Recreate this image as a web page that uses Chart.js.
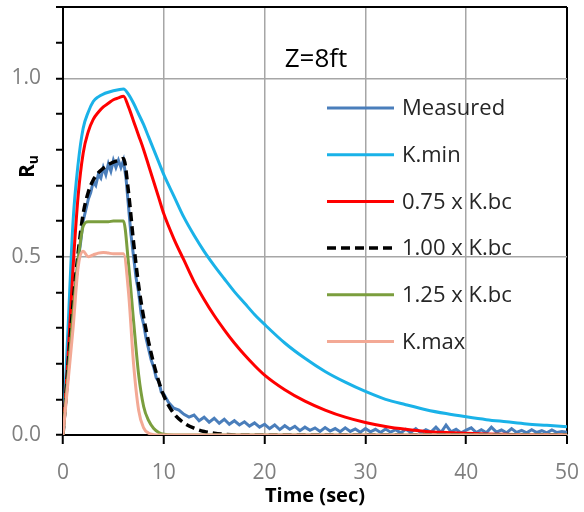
<!DOCTYPE html>
<html>
<head>
<meta charset="utf-8">
<script src="https://cdn.jsdelivr.net/npm/chart.js@4.4.1/dist/chart.umd.min.js"></script>
<style>
body { margin: 0; background: #fff; }
#wrap { width: 584px; height: 512px; }
</style>
</head>
<body>
<div id="wrap"><canvas id="myChart" width="584" height="512"></canvas></div>
<script>
// measured pore pressure ratio, Z = 8 ft
const measuredTime = [0,0.25,0.5,0.75,1,1.25,1.5,1.75,2,2.25,2.5,2.75,3,3.25,3.5,3.75,4,4.25,4.5,4.75,5,5.25,5.5,5.75,6,6.25,6.5,6.75,7,7.25,7.5,7.75,8,8.25,8.5,8.75,9,9.25,9.5,9.75,10,
  10.5,11,11.5,12,12.5,13,13.5,14,14.5,15,15.5,16,16.5,17,17.5,18,18.5,19,19.5,20,
  20.5,21,21.5,22,22.5,23,23.5,24,24.5,25,25.5,26,26.5,27,27.5,28,28.5,29,29.5,30,
  30.5,31,31.5,32,32.5,33,33.5,34,34.5,35,35.5,36,36.5,37,37.5,38,38.5,39,39.5,40,
  40.5,41,41.5,42,42.5,43,43.5,44,44.5,45,45.5,46,46.5,47,47.5,48,48.5,49,49.5,50]
const measuredRu = [0,0.08,0.17,0.26,0.35,0.42,0.49,0.54,0.6,0.63,0.66,0.68,0.71,0.70,0.73,0.72,0.75,0.73,0.76,0.74,0.77,0.75,0.77,0.75,0.77,
  0.72,0.64,0.56,0.5,0.44,0.4,0.34,0.31,0.27,0.24,0.21,0.19,0.16,0.15,0.12,0.115,
  0.09,0.075,0.07,0.058,0.05,0.056,0.04,0.05,0.036,0.047,0.033,0.044,0.03,0.04,0.028,0.037,0.025,0.034,0.022,0.03,
  0.018,0.028,0.015,0.026,0.016,0.024,0.012,0.022,0.013,0.02,0.01,0.021,0.011,0.018,0.009,0.02,0.01,0.017,0.008,0.018,
  0.009,0.016,0.007,0.017,0.008,0.015,0.006,0.016,0.007,0.018,0.006,0.015,0.008,0.022,0.007,0.028,0.009,0.016,0.006,0.014,
  0.02,0.007,0.015,0.006,0.022,0.008,0.014,0.006,0.018,0.007,0.013,0.006,0.015,0.007,0.012,0.006,0.014,0.007,0.01,0.008]

// model runs share one time axis
const modelTime = [0,0.5,1,1.5,2,2.5,3,3.5,4,4.5,5,5.5,6,6.5,7,7.5,8,8.5,9,9.5,10,11,12,13,14,15,16,17,18,19,20,22,24,26,28,30,32,34,36,38,40,42,44,46,48,50]
const kMin = [0,0.3,0.6,0.76,0.86,0.905,0.935,0.948,0.956,0.961,0.965,0.968,0.97,0.955,0.93,0.9,0.87,0.835,0.8,0.765,0.73,
  0.67,0.61,0.56,0.515,0.475,0.438,0.402,0.37,0.338,0.31,0.258,0.215,0.178,0.148,0.122,0.1,0.085,0.071,0.06,0.051,0.043,0.037,0.031,0.027,0.023]
const kbc075 = [0,0.22,0.47,0.67,0.79,0.85,0.885,0.905,0.92,0.93,0.94,0.945,0.95,0.92,0.88,0.84,0.8,0.755,0.71,0.665,0.62,
  0.55,0.49,0.43,0.38,0.335,0.295,0.258,0.225,0.195,0.168,0.127,0.095,0.07,0.05,0.035,0.024,0.016,0.01,0.007,0.005,0.003,0.002,0.001,0.001,0]
const kbc100 = [0,0.19,0.37,0.51,0.62,0.68,0.715,0.735,0.748,0.758,0.765,0.77,0.775,0.68,0.54,0.42,0.33,0.26,0.2,0.15,0.11,
  0.06,0.034,0.019,0.01,0.005,0.002,0,0,0,0,0,0,0,0,0,0,0,0,0,0,0,0,0,0,0]
const kbc125 = [0,0.17,0.34,0.49,0.585,0.598,0.598,0.598,0.598,0.598,0.6,0.6,0.6,0.48,0.32,0.17,0.08,0.04,0.018,0.007,0.002,
  0,0,0,0,0,0,0,0,0,0,0,0,0,0,0,0,0,0,0,0,0,0,0,0,0]
const kMax = [0,0.15,0.3,0.47,0.515,0.5,0.505,0.51,0.512,0.51,0.508,0.508,0.508,0.4,0.2,0.07,0.02,0.005,0.001,0,0,
  0,0,0,0,0,0,0,0,0,0,0,0,0,0,0,0,0,0,0,0,0,0,0,0,0]

const seriesLabels = ['Measured', 'K.min', '0.75 x K.bc', '1.00 x K.bc', '1.25 x K.bc', 'K.max']
const yLabelValues = [0, 0.5, 1.0]
const xTickStep = 10
const yTickStep = 0.1
const chartTitle = 'Z=8ft'

function pts(xs, ys) {
  return xs.map((x, i) => ({ x: x, y: ys[i] }))
}

function near(a, b) { return Math.abs(a - b) < 1e-6 }

const FONT = "'Open Sans', 'DejaVu Sans', sans-serif"

// Z=8ft, legend inside the plot and the R_u axis label with subscript
const extras = {
  id: 'extras',
  afterDraw(chart) {
    const c = chart.ctx
    c.save()
    c.fillStyle = '#000'
    c.font = '26px ' + FONT
    c.textAlign = 'center'
    c.textBaseline = 'alphabetic'
    c.fillText(chartTitle, 316, 67)

    // legend
    c.textAlign = 'left'
    c.textBaseline = 'middle'
    c.font = '22px ' + FONT
    chart.data.datasets.forEach((ds, i) => {
      const y = 108 + i * 46.7
      c.strokeStyle = ds.borderColor
      c.lineWidth = ds.borderWidth
      c.setLineDash(ds.borderDash || [])
      c.beginPath()
      c.moveTo(327, y)
      c.lineTo(394, y)
      c.stroke()
      c.setLineDash([])
      c.fillStyle = '#262626'
      c.fillText(ds.label, 402, y + 1)
    })

    // R_u
    c.translate(34, 178)
    c.rotate(-Math.PI / 2)
    c.fillStyle = '#000'
    c.textAlign = 'left'
    c.textBaseline = 'alphabetic'
    c.font = 'bold 21px ' + FONT
    c.fillText('R', 0, 0)
    const w = c.measureText('R').width
    c.font = 'bold 14px ' + FONT
    c.fillText('u', w, 4)
    c.restore()
  }
}

const ctx = document.getElementById('myChart').getContext('2d')
const myChart = new Chart(ctx, {
  type: 'line',
  data: {
    datasets: [{
      label: seriesLabels[0],
      data: pts(measuredTime, measuredRu),
      borderColor: '#4a7ebb',
      borderWidth: 3,
      order: 5
    }, {
      label: seriesLabels[1],
      data: pts(modelTime, kMin),
      borderColor: '#1ab2e8',
      borderWidth: 3,
      cubicInterpolationMode: 'monotone',
      order: 4
    }, {
      label: seriesLabels[2],
      data: pts(modelTime, kbc075),
      borderColor: '#ff0000',
      borderWidth: 3,
      cubicInterpolationMode: 'monotone',
      order: 3
    }, {
      label: seriesLabels[3],
      data: pts(modelTime, kbc100),
      borderColor: '#000000',
      borderWidth: 3.5,
      borderDash: [9, 5],
      cubicInterpolationMode: 'monotone',
      order: 2
    }, {
      label: seriesLabels[4],
      data: pts(modelTime, kbc125),
      borderColor: '#7b9e3e',
      borderWidth: 3,
      cubicInterpolationMode: 'monotone',
      order: 1
    }, {
      label: seriesLabels[5],
      data: pts(modelTime, kMax),
      borderColor: '#f3a995',
      borderWidth: 3,
      cubicInterpolationMode: 'monotone',
      order: 0
    }]
  },
  options: {
    responsive: false,
    animation: false,
    events: [],
    elements: { point: { radius: 0 } },
    layout: { padding: { top: 7, right: 17, left: 0, bottom: 0 } },
    plugins: {
      legend: { display: false },
      tooltip: { enabled: false }
    },
    scales: {
      x: {
        type: 'linear',
        min: 0,
        max: 50,
        afterFit(scale) {
          scale.height = 77
          scale.paddingLeft = 0
          scale.paddingRight = 0
        },
        border: { color: '#000', width: 2 },
        grid: {
          color: (c) => near(c.tick.value, 50) ? '#000' : (near(c.tick.value, 0) ? 'rgba(0,0,0,0)' : '#a6a6a6'),
          lineWidth: (c) => near(c.tick.value, 50) ? 2 : 1.5,
          tickColor: '#000',
          tickLength: 9,
          tickWidth: 2
        },
        ticks: {
          stepSize: xTickStep,
          color: '#7f7f7f',
          padding: 16,
          font: { family: FONT, size: 21 },
          maxRotation: 0
        },
        title: {
          display: true,
          text: 'Time (sec)',
          color: '#000',
          font: { family: FONT, size: 20, weight: 'bold' },
          padding: { top: 0, bottom: 4 }
        }
      },
      y: {
        min: 0,
        max: 1.2,
        afterFit(scale) {
          scale.width = 63
          scale.paddingTop = 0
          scale.paddingBottom = 0
        },
        border: { color: '#000', width: 2 },
        grid: {
          color: (c) => near(c.tick.value, 1.2) ? '#000' : (yLabelValues.some(v => v > 0 && near(v, c.tick.value)) ? '#a6a6a6' : 'rgba(0,0,0,0)'),
          lineWidth: (c) => near(c.tick.value, 1.2) ? 2 : 1.5,
          tickColor: '#000',
          tickLength: 7,
          tickWidth: 2
        },
        ticks: {
          stepSize: yTickStep,
          autoSkip: false,
          color: '#7f7f7f',
          padding: 15,
          font: { family: FONT, size: 21 },
          callback: (value) => yLabelValues.some(v => near(v, value)) ? value.toFixed(1) : ''
        }
      }
    }
  },
  plugins: [extras]
})
</script>
</body>
</html>
